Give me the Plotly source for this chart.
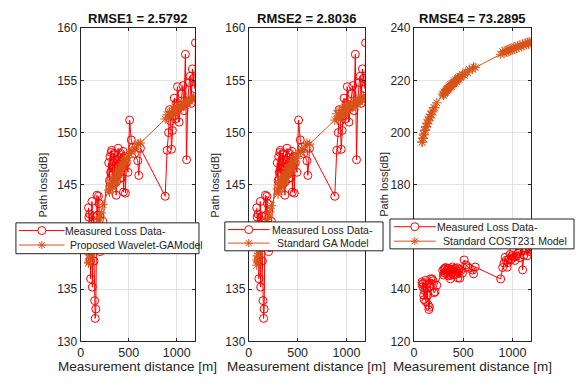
import plotly.graph_objects as go

# Measurement distances [m], sorted ascending
distance_m = [
    82, 86, 90, 95, 100, 104, 110, 118, 122, 128, 135, 140, 146, 152, 158, 164,
    170, 178, 186, 192, 203, 215, 232,
    292, 300, 306, 312, 318, 323, 330, 336, 340, 347, 352, 357, 363, 370, 374,
    380, 386, 391, 398, 405, 412, 418, 425, 432, 442, 446, 452, 459, 466, 476,
    493, 510, 527, 545, 562, 595, 605, 622,
    880,
    900, 915, 925, 936, 946, 955, 966, 975, 985, 995, 1008, 1016, 1025, 1040,
    1055, 1064, 1075, 1090, 1102, 1115, 1130, 1139, 1150, 1163, 1175, 1190, 1195,
]

# Measured path loss [dB]
measured_loss = [
    142.8, 141.9, 140.9, 142.2, 137.7, 136.0, 139.5, 143.4, 135.2, 140.4, 142.0,
    137.7, 133.9, 132.2, 133.1, 140.9, 144.0, 142.1, 143.9, 143.2, 138.6, 139.0,
    141.5,
    147.1, 145.4, 147.7, 146.2, 148.1, 148.3, 145.9, 147.2, 146.6, 148.0, 145.1,
    147.9, 146.4, 144.0, 145.3, 147.4, 146.0, 148.5, 146.9, 147.6, 145.6, 148.0,
    145.7, 147.0, 148.2, 144.3, 146.8, 147.7, 144.2, 147.1, 146.2, 151.2, 149.3,
    148.6, 148.0, 147.3, 145.9, 148.5,
    143.9,
    148.3, 150.0, 152.2, 151.1, 148.4, 150.2, 151.6, 153.3, 151.3, 152.8, 154.4,
    152.3, 151.0, 152.6, 153.7, 154.5, 152.1, 157.5, 147.4, 153.0, 154.8, 155.4,
    152.8, 156.1, 155.2, 154.2, 158.6,
]

# Proposed Wavelet-GA model prediction [dB]
wavelet_ga_loss = [
    137.5, 137.6, 138.3, 137.9, 138.2, 138.4, 138.7, 139.1, 139.2, 139.5, 140.0,
    139.7, 140.0, 140.5, 140.4, 140.7, 141.2, 141.2, 141.4, 141.8, 142.0, 142.3,
    143.1,
    144.5, 144.3, 144.9, 144.6, 145.1, 145.2, 144.8, 145.4, 145.0, 145.7, 145.1,
    145.7, 145.5, 145.2, 146.0, 146.2, 145.8, 146.5, 146.2, 146.5, 146.1, 146.8,
    146.4, 147.0, 147.2, 146.6, 147.2, 147.4, 147.0, 147.5, 147.6, 148.0, 148.2,
    148.3, 148.4, 148.9, 148.9, 149.0,
    151.3,
    151.7, 151.4, 152.0, 151.7, 152.0, 151.7, 152.3, 152.3, 151.9, 152.4, 152.2,
    152.6, 152.2, 152.6, 152.9, 152.5, 152.9, 152.6, 152.9, 152.8, 153.2, 153.0,
    153.2, 153.2, 153.4, 153.3, 153.4,
]

# Standard GA model prediction [dB]
standard_ga_loss = [
    137.3, 137.8, 138.2, 137.6, 138.4, 138.1, 138.8, 139.3, 138.9, 139.6, 139.9,
    139.5, 140.1, 140.4, 140.2, 140.8, 141.1, 141.0, 141.5, 141.7, 141.9, 142.4,
    143.0,
    144.6, 144.1, 145.0, 144.4, 145.0, 145.4, 144.6, 145.3, 145.1, 145.8, 144.9,
    145.8, 145.4, 145.3, 145.9, 146.3, 145.7, 146.6, 146.1, 146.6, 146.0, 146.9,
    146.3, 146.9, 147.3, 146.5, 147.1, 147.5, 146.9, 147.6, 147.5, 148.1, 148.1,
    148.4, 148.3, 149.0, 148.8, 148.9,
    151.2,
    151.8, 151.3, 152.1, 151.6, 152.1, 151.6, 152.2, 152.4, 151.8, 152.5, 152.1,
    152.7, 152.1, 152.7, 152.8, 152.4, 153.0, 152.5, 153.0, 152.7, 153.3, 152.9,
    153.3, 153.1, 153.5, 153.2, 153.5,
]

# Standard COST231 model prediction [dB]
cost231_loss = [
    196.3, 196.4, 197.9, 197.8, 199.4, 199.1, 200.8, 201.0, 202.3, 202.1, 203.7,
    203.4, 204.9, 204.5, 206.0, 205.6, 207.0, 206.8, 208.3, 207.9, 209.6, 209.5,
    211.4,
    214.8, 214.3, 215.5, 214.9, 216.0, 215.4, 216.6, 216.0, 216.9, 216.4, 217.5,
    216.8, 217.9, 217.4, 218.4, 217.7, 218.8, 218.2, 219.2, 218.7, 219.8, 219.1,
    220.2, 219.6, 220.8, 220.1, 221.1, 220.5, 221.6, 221.0, 222.3, 222.0, 223.3,
    222.9, 224.2, 224.3, 225.2, 224.9,
    230.0,
    231.0, 230.4, 231.4, 230.8, 231.7, 231.0, 232.0, 231.3, 232.3, 231.6, 232.6,
    231.9, 232.9, 232.3, 233.3, 232.6, 233.5, 232.9, 233.9, 233.3, 234.3, 233.6,
    234.5, 233.9, 234.8, 234.2, 235.0,
]

titles = ["RMSE1 = 2.5792", "RMSE2 = 2.8036", "RMSE4 = 73.2895"]
measured_name = "Measured Loss Data-"
model_names = ["Proposed Wavelet-GAModel", "Standard GA Model", "Standard COST231 Model"]
model_series = [wavelet_ga_loss, standard_ga_loss, cost231_loss]
y_ticks = [
    [130, 135, 140, 145, 150, 155, 160],
    [130, 135, 140, 145, 150, 155, 160],
    [120, 140, 160, 180, 200, 220, 240],
]
# The first panel's 140 label sits under its legend box
y_ticklabels = [
    ["130", "135", "", "145", "150", "155", "160"],
    ["130", "135", "140", "145", "150", "155", "160"],
    ["120", "140", "160", "180", "200", "220", "240"],
]
x_ticks = [0, 500, 1000]

W, H = 578, 385
RED = "#FF0000"
ORANGE = "#D95319"
AXIS_COLOR = "#262626"
GRID_COLOR = "#E3E3E3"
FONT = "Liberation Sans, Arial, sans-serif"

# Axes boxes in pixels (left, right); top/bottom shared
x_boxes = [(78, 193), (247, 364), (413, 531)]
y_top, y_bottom = 22, 347
ylabel_x = [40, 213, 383]

# Legend boxes in pixels: (left, top, right, bottom, row1 y, row2 y,
#                          sample x0, sample x1, text x row1, text x row2)
legend_boxes = [
    (13, 224, 197, 256, 232, 247, 16, 62, 61, 66),
    (223, 223, 382, 253, 231, 245, 226, 268, 269, 274),
    (389, 220, 574, 251, 228, 243, 393, 435, 435, 441),
]


def px(x):
    return x / W


def py(y):
    return 1 - y / H


fig = go.Figure()

for i in range(3):
    xa = "x" if i == 0 else f"x{i + 1}"
    ya = "y" if i == 0 else f"y{i + 1}"
    fig.add_trace(go.Scatter(
        x=distance_m, y=measured_loss, mode="lines+markers",
        name=measured_name, showlegend=False,
        line=dict(color=RED, width=1),
        marker=dict(symbol="circle-open", size=8, color=RED, line=dict(width=1, color=RED)),
        xaxis=xa, yaxis=ya,
    ))
    fig.add_trace(go.Scatter(
        x=distance_m, y=model_series[i], mode="lines+markers",
        name=model_names[i], showlegend=False,
        line=dict(color=ORANGE, width=1),
        marker=dict(symbol="asterisk-open", size=8, color=ORANGE, line=dict(width=1, color=ORANGE)),
        xaxis=xa, yaxis=ya,
    ))

layout = dict(
    width=W, height=H,
    margin=dict(l=0, r=0, t=0, b=0),
    paper_bgcolor="white", plot_bgcolor="white",
    font=dict(family=FONT, size=12, color=AXIS_COLOR),
    annotations=[], shapes=[],
)

for i in range(3):
    xl, xr = x_boxes[i]
    xkey = "xaxis" if i == 0 else f"xaxis{i + 1}"
    ykey = "yaxis" if i == 0 else f"yaxis{i + 1}"
    xa = "x" if i == 0 else f"x{i + 1}"
    ya = "y" if i == 0 else f"y{i + 1}"
    layout[xkey] = dict(
        domain=[px(xl), px(xr)], anchor=ya, range=[0, 1190],
        tickvals=x_ticks, ticks="inside", ticklen=3, tickcolor=AXIS_COLOR,
        showline=True, linecolor=AXIS_COLOR, linewidth=1, mirror="ticks",
        showgrid=True, gridcolor=GRID_COLOR, gridwidth=1, zeroline=False,
        tickfont=dict(size=12.5, color=AXIS_COLOR),
    )
    layout[ykey] = dict(
        domain=[py(y_bottom), py(y_top)], anchor=xa,
        range=[y_ticks[i][0], y_ticks[i][-1]],
        tickvals=y_ticks[i], ticktext=y_ticklabels[i],
        ticks="inside", ticklen=3, tickcolor=AXIS_COLOR,
        showline=True, linecolor=AXIS_COLOR, linewidth=1, mirror="ticks",
        showgrid=True, gridcolor=GRID_COLOR, gridwidth=1, zeroline=False,
        tickfont=dict(size=12, color=AXIS_COLOR),
    )

    cx = (xl + xr) / 2
    ann = layout["annotations"]
    ann.append(dict(
        text=f"<b>{titles[i]}</b>", x=px(cx), y=py(12), xref="paper", yref="paper",
        xanchor="center", yanchor="middle", showarrow=False,
        font=dict(size=13, color="#111111"),
    ))
    ann.append(dict(
        text="Measurement distance [m]", x=px(cx), y=py(373), xref="paper", yref="paper",
        xanchor="center", yanchor="middle", showarrow=False,
        font=dict(size=13.5, color=AXIS_COLOR),
    ))
    ann.append(dict(
        text="Path loss[dB]", x=px(ylabel_x[i]), y=py((y_top + y_bottom) / 2),
        xref="paper", yref="paper", textangle=-90,
        xanchor="center", yanchor="middle", showarrow=False,
        font=dict(size=11, color=AXIS_COLOR),
    ))

    # Legend: box, line samples, markers and labels
    lx0, ly0, lx1, ly1, r1, r2, sx0, sx1, tx1, tx2 = legend_boxes[i]
    sh = layout["shapes"]
    sh.append(dict(type="rect", xref="paper", yref="paper", layer="above",
                   x0=px(lx0), x1=px(lx1), y0=py(ly1), y1=py(ly0),
                   fillcolor="white", line=dict(color="#222222", width=1)))
    sh.append(dict(type="line", xref="paper", yref="paper", layer="above",
                   x0=px(sx0), x1=px(sx1), y0=py(r1), y1=py(r1),
                   line=dict(color=RED, width=1)))
    sh.append(dict(type="line", xref="paper", yref="paper", layer="above",
                   x0=px(sx0), x1=px(sx1), y0=py(r2), y1=py(r2),
                   line=dict(color=ORANGE, width=1)))
    mx = (sx0 + sx1) / 2
    sh.append(dict(type="circle", xref="paper", yref="paper", layer="above",
                   xsizemode="pixel", ysizemode="pixel",
                   xanchor=px(mx), yanchor=py(r1), x0=-4, x1=4, y0=-4, y1=4,
                   fillcolor="white", line=dict(color=RED, width=1)))
    sh.append(dict(type="path", xref="paper", yref="paper", layer="above",
                   xsizemode="pixel", ysizemode="pixel",
                   xanchor=px(mx), yanchor=py(r2),
                   path="M-4,0L4,0M0,-4L0,4M-3,-3L3,3M-3,3L3,-3",
                   line=dict(color=ORANGE, width=1)))
    ann.append(dict(
        text=measured_name, x=px(tx1), y=py(r1), xref="paper", yref="paper",
        xanchor="left", yanchor="middle", showarrow=False, borderpad=0,
        font=dict(size=10.5, color="#222222"),
    ))
    ann.append(dict(
        text=model_names[i], x=px(tx2), y=py(r2), xref="paper", yref="paper",
        xanchor="left", yanchor="middle", showarrow=False, borderpad=0,
        font=dict(size=10.5, color="#222222"),
    ))

fig.update_layout(**layout)
fig.write_html("out.html")
